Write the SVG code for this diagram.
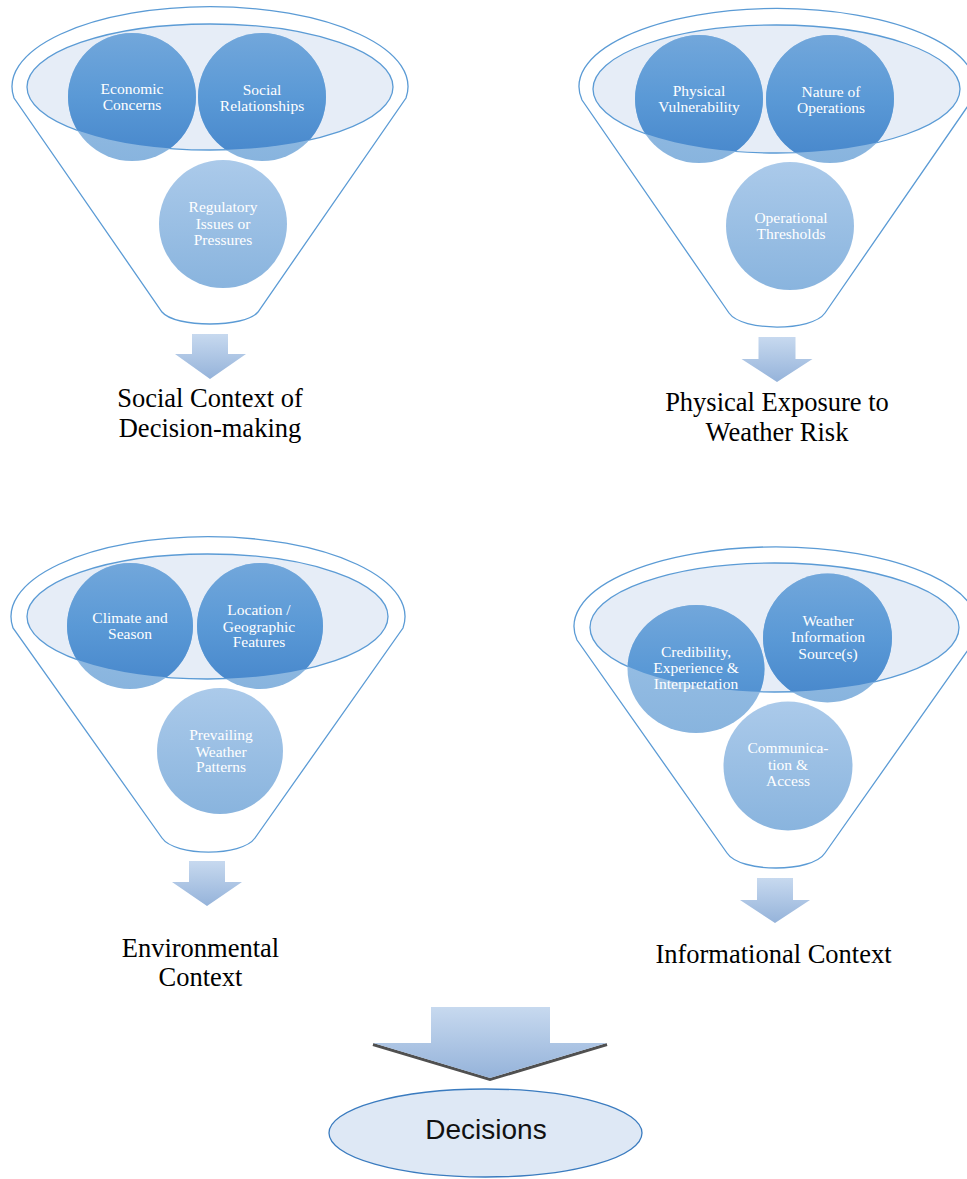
<svg xmlns="http://www.w3.org/2000/svg" width="967" height="1179" viewBox="0 0 967 1179">
<style>
.outer{fill:#fff;stroke:#5b9bd5;stroke-width:1.3}
.inner{fill:#e6edf7;stroke:#5b9bd5;stroke-width:1.3}
.low{fill:url(#gLow)}
.dark{fill:url(#gDark)}
.third{fill:url(#gThird)}
.ct{fill:#fff;font-family:"Liberation Serif","Times New Roman",serif;font-size:15.5px;text-anchor:middle}
.cap{fill:#000;font-family:"Liberation Serif","Times New Roman",serif;font-size:26.5px;text-anchor:middle}
.arr{fill:url(#gArrow)}
</style>
<defs>
<linearGradient id="gDark" x1="0" y1="0" x2="0" y2="1"><stop offset="0" stop-color="#72a7db"/><stop offset="0.5" stop-color="#5a99d6"/><stop offset="1" stop-color="#4686cb"/></linearGradient>
<linearGradient id="gLow" x1="0" y1="0" x2="0" y2="1"><stop offset="0" stop-color="#9ec3e7"/><stop offset="1" stop-color="#88b4de"/></linearGradient>
<linearGradient id="gThird" x1="0" y1="0" x2="0" y2="1"><stop offset="0" stop-color="#abcaea"/><stop offset="1" stop-color="#89b4de"/></linearGradient>
<linearGradient id="gArrow" x1="0" y1="0" x2="0" y2="1"><stop offset="0" stop-color="#c7d9ef"/><stop offset="1" stop-color="#95b3da"/></linearGradient>
<clipPath id="c1"><ellipse cx="210" cy="87" rx="183" ry="63"/></clipPath>
<clipPath id="c2"><ellipse cx="776.5" cy="89" rx="183.5" ry="64"/></clipPath>
<clipPath id="c3"><ellipse cx="207.5" cy="616.5" rx="180.5" ry="62.5"/></clipPath>
<clipPath id="c4"><ellipse cx="774.5" cy="627.5" rx="184.5" ry="64.5"/></clipPath>
</defs>

<g id="funnel-social">
<path class="outer" d="M14,98 A198,80 0 1 1 406,98 L258,312 C245,328 175,328 162,312 Z"/>
<ellipse class="inner" cx="210" cy="87" rx="183" ry="63"/>
</g>
<g id="node-economic">
<circle class="low" cx="132" cy="97" r="64"/>
<circle class="dark" cx="132" cy="97" r="64" clip-path="url(#c1)"/>
<text class="ct" x="132" y="94">Economic</text><text class="ct" x="132" y="110">Concerns</text>
</g>
<g id="node-social">
<circle class="low" cx="262" cy="97" r="64"/>
<circle class="dark" cx="262" cy="97" r="64" clip-path="url(#c1)"/>
<text class="ct" x="262" y="95">Social</text><text class="ct" x="262" y="111">Relationships</text>
</g>
<g id="node-regulatory">
<circle class="third" cx="223" cy="224" r="64"/>
<text class="ct" x="223" y="212">Regulatory</text><text class="ct" x="223" y="228.5">Issues or</text><text class="ct" x="223" y="245">Pressures</text>
</g>
<g id="label-social-context">
<text class="cap" x="210" y="406.5">Social Context of</text><text class="cap" x="210" y="436.5">Decision-making</text>
</g>

<g id="funnel-physical">
<path class="outer" d="M582,100 A198,78 0 1 1 972,100 L825,313 C812,331.7 742,331.7 729,313 Z"/>
<ellipse class="inner" cx="776.5" cy="89" rx="183.5" ry="64"/>
</g>
<g id="node-physical-vulnerability">
<circle class="low" cx="699" cy="99" r="64"/>
<circle class="dark" cx="699" cy="99" r="64" clip-path="url(#c2)"/>
<text class="ct" x="699" y="96">Physical</text><text class="ct" x="699" y="112">Vulnerability</text>
</g>
<g id="node-nature">
<circle class="low" cx="830" cy="99" r="64"/>
<circle class="dark" cx="830" cy="99" r="64" clip-path="url(#c2)"/>
<text class="ct" x="831" y="97">Nature of</text><text class="ct" x="831" y="113">Operations</text>
</g>
<g id="node-thresholds">
<circle class="third" cx="790" cy="226" r="64"/>
<text class="ct" x="791" y="223">Operational</text><text class="ct" x="791" y="239">Thresholds</text>
</g>
<g id="label-physical-exposure">
<text class="cap" x="777" y="411">Physical Exposure to</text><text class="cap" x="777" y="441">Weather Risk</text>
</g>

<g id="funnel-environmental">
<path class="outer" d="M13,628 A197,80 0 1 1 403,628 L255,838 C242,856.7 175,856.7 162,838 Z"/>
<ellipse class="inner" cx="207.5" cy="616.5" rx="180.5" ry="62.5"/>
</g>
<g id="node-climate">
<circle class="low" cx="130" cy="626" r="63"/>
<circle class="dark" cx="130" cy="626" r="63" clip-path="url(#c3)"/>
<text class="ct" x="130" y="623">Climate and</text><text class="ct" x="130" y="639">Season</text>
</g>
<g id="node-location">
<circle class="low" cx="260" cy="626" r="63"/>
<circle class="dark" cx="260" cy="626" r="63" clip-path="url(#c3)"/>
<text class="ct" x="259" y="615">Location /</text><text class="ct" x="259" y="631.5">Geographic</text><text class="ct" x="259" y="647">Features</text>
</g>
<g id="node-prevailing">
<circle class="third" cx="220" cy="751" r="63"/>
<text class="ct" x="221" y="740">Prevailing</text><text class="ct" x="221" y="756.5">Weather</text><text class="ct" x="221" y="772">Patterns</text>
</g>
<g id="label-environmental">
<text class="cap" x="200.5" y="956.5">Environmental</text><text class="cap" x="200.5" y="986">Context</text>
</g>

<g id="funnel-informational">
<path class="outer" d="M577,640 A202,79.5 0 1 1 975,640 L825,853 C812,873 740,873 727,853 Z"/>
<ellipse class="inner" cx="774.5" cy="627.5" rx="184.5" ry="64.5"/>
</g>
<g id="node-weather-source">
<circle class="low" cx="827.5" cy="638" r="64.5"/>
<circle class="dark" cx="827.5" cy="638" r="64.5" clip-path="url(#c4)"/>
<text class="ct" x="828" y="626">Weather</text><text class="ct" x="828" y="642">Information</text><text class="ct" x="828" y="659">Source(s)</text>
</g>
<g id="node-credibility">
<ellipse class="low" cx="696" cy="669" rx="68.5" ry="64"/>
<ellipse class="dark" cx="696" cy="669" rx="68.5" ry="64" clip-path="url(#c4)"/>
<text class="ct" x="696" y="657">Credibility,</text><text class="ct" x="696" y="673">Experience &amp;</text><text class="ct" x="696" y="689">Interpretation</text>
</g>
<g id="node-communication">
<circle class="third" cx="788" cy="766" r="64.5"/>
<text class="ct" x="788" y="753">Communica-</text><text class="ct" x="788" y="769.5">tion &amp;</text><text class="ct" x="788" y="786">Access</text>
</g>
<g id="label-informational">
<text class="cap" x="773.5" y="963">Informational Context</text>
</g>

<g id="connectors">
<path class="arr" d="M192,334 H228 V354 H246 L210,379 L175,354 H192 Z"/>
<path class="arr" d="M758.5,337 H795.5 V359 H812.5 L777,382 L741.5,359 H758.5 Z"/>
<path class="arr" d="M189,861 H225 V882 H242 L207,906 L172,882 H189 Z"/>
<path class="arr" d="M757,878 H793 V900 H810 L775,923 L740,900 H757 Z"/>
<polyline points="373,1044.5 490,1079.5 607,1044.5" fill="none" stroke="#505050" stroke-width="3"/>
<path class="arr" d="M431,1007 H550 V1043 H607 L490,1078 L373,1043 H431 Z"/>
</g>

<g id="node-decisions">
<ellipse cx="485.5" cy="1133" rx="156.5" ry="44" fill="#dee8f5" stroke="#3a7bbf" stroke-width="1.3"/>
<text x="486" y="1139" font-family="'Liberation Sans', Arial, sans-serif" font-size="28" text-anchor="middle" fill="#111">Decisions</text>
</g>
</svg>
